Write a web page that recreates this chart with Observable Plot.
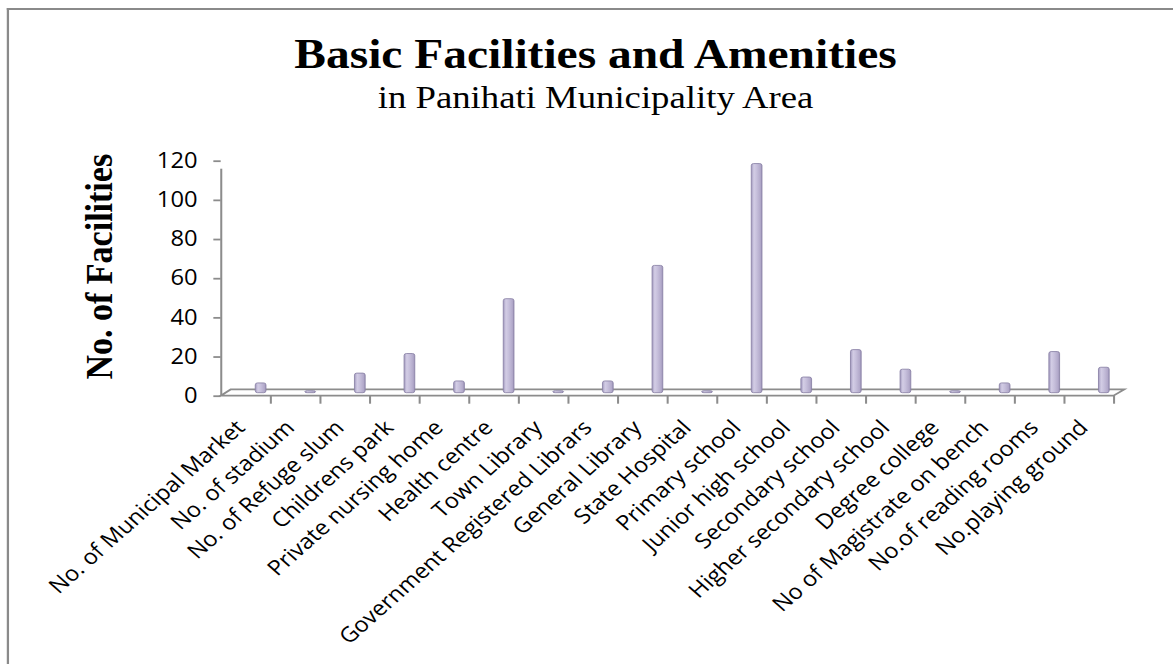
<!DOCTYPE html>
<html>
<head>
<meta charset="utf-8">
<script src="https://cdn.jsdelivr.net/npm/d3@7"></script>
<script src="https://cdn.jsdelivr.net/npm/@observablehq/plot@0.6"></script>
<style>
  html, body { margin: 0; padding: 0; background: #fff; overflow: hidden; }
  #wrap { position: absolute; left: 0; top: 0; width: 1038px; height: 664px; transform: scaleX(1.13); transform-origin: 0 0; }
  #frame { position: absolute; left: 5.5px; top: 8px; width: 2000px; height: 2000px; border-left: 2px solid #8a8a8a; border-top: 2px solid #8a8a8a; }
  #head { position: relative; height: 120px; }
  .t { position: absolute; left: 8px; width: 1038px; text-align: center; font-family: "Liberation Serif", "Times New Roman", serif; line-height: 1; color: #000; white-space: nowrap; }
  #title { top: 32.8px; font-size: 42px; font-weight: bold; }
  #sub { top: 81px; font-size: 32.5px; }
  #chart { position: relative; }
</style>
</head>
<body>
<div id="wrap">
  <div id="frame"></div>
  <div id="head">
    <div class="t" id="title">Basic Facilities and Amenities</div>
    <div class="t" id="sub">in Panihati Municipality Area</div>
  </div>
  <div id="chart"></div>
</div>
<script>
const categories = [
  "No. of Municipal Market", "No. of stadium", "No. of Refuge slum", "Childrens park",
  "Private nursing home", "Health centre", "Town Library", "Government Registered Librars",
  "General Library", "State Hospital", "Primary school", "Junior high school",
  "Secondary school", "Higher secondary school", "Degree college",
  "No of Magistrate on bench", "No.of reading rooms", "No.playing ground"
];
const values = [5, 1, 10, 20, 6, 48, 1, 6, 65, 1, 117, 8, 22, 12, 1, 5, 21, 13];
const yTicks = [0, 20, 40, 60, 80, 100, 120];
const yTitle = "No. of Facilities";

const data = categories.map((c, i) => ({category: c, value: values[i]}));

const W = 1038, H = 544;
const mL = 195.3, mR = 52.6, mT = 40.7, mB = 268.3;
const band = (W - mL - mR) / categories.length;

const floor = (index, scales, vals, dims) => {
  const x0 = dims.marginLeft, x1 = dims.width - dims.marginRight, y0 = dims.height - dims.marginBottom;
  const g = d3.create("svg:g");
  g.append("path")
    .attr("d", `M${x0},${y0}L${x0 + 8.8},${y0 - 6.3}L${x1 + 9.5},${y0 - 6.3}L${x1},${y0}Z`)
    .attr("fill", "none").attr("stroke", "#8c8c8c").attr("stroke-width", 1.8);
  return g.node();
};

const chart = Plot.plot({
  width: W, height: H,
  marginLeft: mL, marginRight: mR, marginTop: mT, marginBottom: mB,
  style: {fontFamily: "'Open Sans', sans-serif", color: "#000", background: "transparent", overflow: "visible"},
  x: {domain: categories, padding: 0, round: false, label: null},
  y: {domain: [0, 120], label: null},
  marks: [
    floor,
    Plot.barY(data, {
      x: "category", y: "value", dy: -3,
      insetLeft: band * 0.697, insetRight: band * 0.087,
      fill: "url(#cyl)", stroke: "#8a81a6", strokeWidth: 0.8, rx: 2
    }),
    Plot.ruleX([categories[0]], {dx: -band / 2, y1: 0, y2: 120, insetBottom: -8, stroke: "#8c8c8c", strokeWidth: 1.8}),
    Plot.axisY({ticks: yTicks, tickSize: 6.5, tickPadding: 14.5, stroke: "#8c8c8c", strokeWidth: 1.8, fontSize: 21, fill: "#000"}),
    Plot.axisX({tickSize: 8, dx: band / 2, tickFormat: () => "", stroke: "#8c8c8c", strokeWidth: 1.8}),
    Plot.axisX({tickSize: 0, tickPadding: 28, tickRotate: -45, dx: -4.7, fontSize: 21, fill: "#000"}),
    Plot.text([yTitle], {frameAnchor: "left", textAnchor: "middle", rotate: -90, dx: -107.7, dy: -12, fontSize: 34, fontWeight: "bold", fontFamily: "'Liberation Serif', serif", fill: "#000"})
  ]
});

const defs = d3.select(chart).insert("defs", ":first-child");
const grad = defs.append("linearGradient").attr("id", "cyl").attr("x1", "0").attr("x2", "1").attr("y1", "0").attr("y2", "0");
[["0%", "#a199be"], ["25%", "#d3cde5"], ["50%", "#c7c0dc"], ["85%", "#b2a9ca"], ["100%", "#9a91b6"]]
  .forEach(([o, c]) => grad.append("stop").attr("offset", o).attr("stop-color", c));

document.getElementById("chart").appendChild(chart);
</script>
</body>
</html>
